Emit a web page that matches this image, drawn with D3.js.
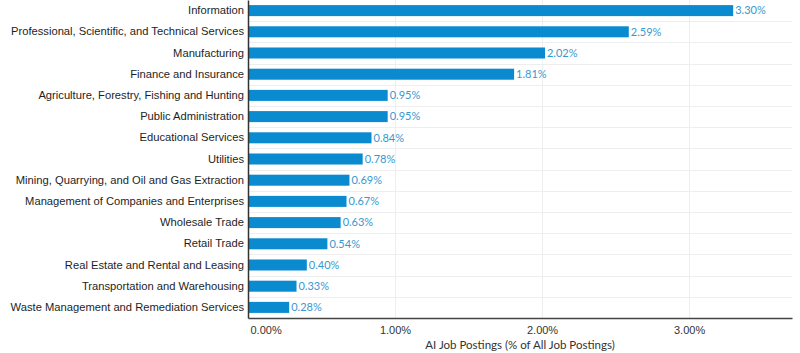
<!DOCTYPE html>
<html>
<head>
  <script src="https://d3js.org/d3.v7.min.js"></script>
  <style>
    body { margin: 0; background: #fff; font-family: Lato, sans-serif; }
    .cat text { font-size: 11.2px; fill: #1e1e1e; }
    .val { font-size: 11px; fill: #3798d0; }
    .xaxis text { font-size: 11px; fill: #333; }
    .title { font-size: 11.5px; fill: #333; text-anchor: middle; }
  </style>
</head>
<body>
  <div id="chart"></div>
  <script>
    const industries = [
      "Information",
      "Professional, Scientific, and Technical Services",
      "Manufacturing",
      "Finance and Insurance",
      "Agriculture, Forestry, Fishing and Hunting",
      "Public Administration",
      "Educational Services",
      "Utilities",
      "Mining, Quarrying, and Oil and Gas Extraction",
      "Management of Companies and Enterprises",
      "Wholesale Trade",
      "Retail Trade",
      "Real Estate and Rental and Leasing",
      "Transportation and Warehousing",
      "Waste Management and Remediation Services"
    ];
    const shares = [3.30, 2.59, 2.02, 1.81, 0.95, 0.95, 0.84, 0.78, 0.69, 0.67, 0.63, 0.54, 0.40, 0.33, 0.28];
    const xTicks = [0, 1, 2, 3];

    const margin = {top: 0, right: 8, bottom: 35, left: 248};
    const width = 800 - margin.left - margin.right;
    const height = 353 - margin.top - margin.bottom;

    const svg = d3.select("#chart")
      .append("svg")
        .attr("width", 800)
        .attr("height", 353)
      .append("g")
        .attr("transform", `translate(${margin.left},${margin.top})`);

    const x = d3.scaleLinear().domain([0, 3.7]).range([0, width]);
    const y = d3.scaleBand().domain(industries).range([0, height]).paddingInner(0.48).paddingOuter(0.24);

    // grid
    const step = y.step();
    svg.append("g")
      .selectAll("line")
      .data(industries.slice(1))
      .join("line")
        .attr("x1", 0).attr("x2", width)
        .attr("y1", d => Math.round(y(d) - step * 0.24) + 0.5)
        .attr("y2", d => Math.round(y(d) - step * 0.24) + 0.5)
        .attr("stroke", "#eeeeee");
    svg.append("g")
      .selectAll("line")
      .data(xTicks.slice(1))
      .join("line")
        .attr("x1", d => Math.round(x(d)) + 0.5).attr("x2", d => Math.round(x(d)) + 0.5)
        .attr("y1", 0).attr("y2", height)
        .attr("stroke", "#eeeeee");

    // bars
    svg.selectAll(".bar")
      .data(industries)
      .join("rect")
        .attr("class", "bar")
        .attr("x", 1)
        .attr("y", d => y(d))
        .attr("width", (d, i) => x(shares[i]) - 1)
        .attr("height", y.bandwidth())
        .attr("fill", "#0a8bd0");

    svg.selectAll(".val")
      .data(industries)
      .join("text")
        .attr("class", "val")
        .attr("x", (d, i) => x(shares[i]) + 2)
        .attr("y", d => y(d) + y.bandwidth() / 2)
        .attr("dy", "0.35em")
        .text((d, i) => shares[i].toFixed(2) + "%");

    // category axis
    const yAxis = svg.append("g")
      .attr("class", "cat")
      .call(d3.axisLeft(y).tickSize(0).tickPadding(4));
    yAxis.select(".domain").attr("stroke", "#333").attr("stroke-width", 1.5);

    // value axis
    const xAxis = svg.append("g")
      .attr("class", "xaxis")
      .attr("transform", `translate(0,${height})`)
      .call(d3.axisBottom(x).tickValues(xTicks).tickSize(0).tickPadding(8)
        .tickFormat(d => d.toFixed(2) + "%"));
    xAxis.select(".domain").attr("stroke", "#444").attr("stroke-width", 1.5);
    xAxis.selectAll(".tick text").filter(d => d === 0).attr("text-anchor", "start").attr("dx", 2);

    svg.append("text")
      .attr("class", "title")
      .attr("x", width / 2)
      .attr("y", height + 31)
      .text("AI Job Postings (% of All Job Postings)");
  </script>
</body>
</html>
